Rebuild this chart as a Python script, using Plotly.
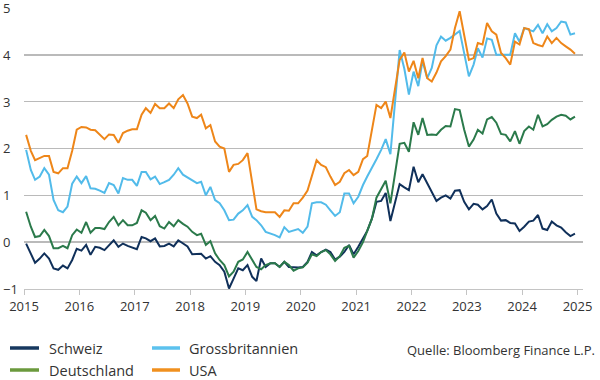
import plotly.graph_objects as go

# ---- data (monthly, Jan 2015 - Dec 2024) ----
years = list(range(2015, 2025))
months = [f"{y}-{m:02d}-15" for y in years for m in range(1, 13)]

schweiz = [
    -0.03, -0.24, -0.44, -0.35, -0.24, -0.35, -0.56, -0.59, -0.50, -0.56, -0.38, -0.14,
    -0.18, -0.06, -0.27, -0.10, -0.12, -0.17, -0.06, 0.04, -0.10, -0.03, -0.08, -0.11,
    -0.15, 0.11, 0.08, 0.02, 0.08, -0.09, -0.08, -0.03, -0.09, 0.04, -0.03, -0.09,
    -0.26, -0.26, -0.25, -0.35, -0.30, -0.42, -0.49, -0.63, -0.99, -0.78, -0.56, -0.60,
    -0.49, -0.74, -0.83, -0.35, -0.53, -0.45, -0.45, -0.53, -0.42, -0.53, -0.54, -0.54,
    -0.53, -0.42, -0.21, -0.28, -0.21, -0.16, -0.21, -0.37, -0.31, -0.21, -0.06, -0.26,
    -0.10, 0.09, 0.24, 0.50, 0.86, 0.88, 1.05, 0.45, 0.83, 1.24, 1.17, 1.11,
    1.61, 1.28, 1.45, 1.25, 1.05, 0.88, 0.95, 1.00, 0.93, 1.10, 1.11, 0.86,
    0.70, 0.82, 0.80, 0.70, 0.77, 0.91, 0.61, 0.46, 0.47, 0.41, 0.40, 0.24,
    0.33, 0.44, 0.46, 0.58, 0.29, 0.26, 0.44, 0.36, 0.31, 0.21, 0.13, 0.18,
]
deutschland = [
    0.65, 0.33, 0.11, 0.13, 0.26, 0.13, -0.13, -0.13, -0.08, -0.13, 0.15, 0.27,
    0.20, 0.43, 0.20, 0.30, 0.30, 0.28, 0.43, 0.54, 0.36, 0.47, 0.36, 0.36,
    0.41, 0.68, 0.63, 0.47, 0.56, 0.34, 0.29, 0.43, 0.34, 0.47, 0.39, 0.33,
    0.22, 0.15, 0.18, -0.06, 0.02, -0.24, -0.38, -0.49, -0.73, -0.63, -0.42, -0.37,
    -0.21, -0.38, -0.53, -0.58, -0.49, -0.45, -0.45, -0.53, -0.42, -0.49, -0.61, -0.56,
    -0.54, -0.44, -0.26, -0.30, -0.21, -0.17, -0.26, -0.40, -0.30, -0.12, -0.08, -0.33,
    -0.19, 0.00, 0.22, 0.50, 0.95, 1.12, 1.31, 0.83, 1.50, 2.10, 2.12, 1.93,
    2.56, 2.29, 2.65, 2.29, 2.30, 2.29, 2.40, 2.48, 2.47, 2.84, 2.82, 2.40,
    2.04, 2.19, 2.40, 2.32, 2.62, 2.67, 2.55, 2.31, 2.29, 2.15, 2.37, 2.10,
    2.37, 2.47, 2.40, 2.72, 2.47, 2.52, 2.61, 2.68, 2.72, 2.70, 2.62, 2.68,
]
grossbritannien = [
    1.97, 1.54, 1.33, 1.40, 1.58, 1.44, 0.90, 0.68, 0.64, 0.76, 1.25, 1.40,
    1.26, 1.41, 1.15, 1.14, 1.10, 1.05, 1.26, 1.22, 1.04, 1.37, 1.33, 1.33,
    1.20, 1.50, 1.50, 1.34, 1.40, 1.24, 1.28, 1.33, 1.44, 1.58, 1.44, 1.38,
    1.31, 1.26, 1.29, 1.00, 1.18, 0.90, 0.83, 0.68, 0.47, 0.48, 0.61, 0.68,
    0.79, 0.54, 0.47, 0.36, 0.22, 0.19, 0.15, 0.10, 0.32, 0.22, 0.25, 0.28,
    0.20, 0.33, 0.83, 0.85, 0.85, 0.80, 0.68, 0.56, 0.64, 1.04, 1.04, 0.83,
    0.97, 1.22, 1.40, 1.58, 1.77, 1.97, 2.20, 1.88, 3.00, 4.10, 3.70, 3.15,
    3.64, 3.33, 3.87, 3.50, 3.72, 4.20, 4.39, 4.30, 4.36, 4.43, 4.51, 4.03,
    3.54, 3.79, 4.14, 3.94, 4.35, 4.32, 4.00, 4.00, 4.00, 4.00, 4.46, 4.28,
    4.57, 4.54, 4.50, 4.64, 4.46, 4.65, 4.50, 4.57, 4.71, 4.69, 4.43, 4.46,
]
usa = [
    2.29, 1.95, 1.75, 1.80, 1.84, 1.84, 1.50, 1.47, 1.58, 1.58, 1.95, 2.40,
    2.46, 2.45, 2.40, 2.39, 2.29, 2.20, 2.30, 2.29, 2.12, 2.33, 2.38, 2.41,
    2.41, 2.72, 2.86, 2.76, 2.95, 2.86, 2.86, 2.96, 2.86, 3.05, 3.14, 2.96,
    2.68, 2.65, 2.72, 2.43, 2.50, 2.15, 2.04, 2.00, 1.50, 1.65, 1.67, 1.75,
    1.90, 1.25, 0.70, 0.66, 0.64, 0.64, 0.64, 0.54, 0.68, 0.67, 0.83, 0.83,
    0.95, 1.10, 1.40, 1.75, 1.65, 1.60, 1.40, 1.22, 1.29, 1.47, 1.54, 1.43,
    1.50, 1.77, 1.84, 2.40, 2.93, 2.86, 3.00, 2.65, 3.30, 3.89, 4.05, 3.64,
    3.87, 3.50, 3.93, 3.50, 3.43, 3.62, 3.86, 3.97, 4.11, 4.57, 4.93, 4.39,
    3.89, 3.93, 4.25, 4.22, 4.68, 4.50, 4.43, 4.04, 3.93, 3.79, 4.28, 4.22,
    4.57, 4.55, 4.25, 4.21, 4.18, 4.39, 4.25, 4.36, 4.25, 4.18, 4.11, 4.02,
]

x_tickvals = [f"{y}-01-01" for y in range(2015, 2026)]
x_ticktext = [str(y) for y in range(2015, 2026)]
y_tickvals = [-1, 0, 1, 2, 3, 4, 5]
y_ticktext = ["\u22121", "0", "1", "2", "3", "4", "5"]

series_names = ["Schweiz", "Deutschland", "Grossbritannien", "USA"]
series_values = [schweiz, deutschland, grossbritannien, usa]
line_colors = ["#10305a", "#2b7a4b", "#52bbea", "#ee8619"]
legend_colors = ["#17385f", "#6b9a3d", "#5cc2ee", "#f0901f"]
source_text = "Quelle: Bloomberg Finance L.P."

# ---- layout geometry ----
W, H = 600, 380
ML, MR, MT, MB = 24, 17, 7, 91
PW, PH = W - ML - MR, H - MT - MB
FONT = "Open Sans"
TXT = "#333333"


def px2x(px):
    return (px - ML) / PW


def py2y(py):
    return (H - MB - py) / PH


fig = go.Figure()
for name, vals, col in zip(series_names, series_values, line_colors):
    fig.add_trace(go.Scatter(x=months, y=vals, mode="lines", name=name,
                             line=dict(color=col, width=2), showlegend=False,
                             hoverinfo="skip"))

fig.update_layout(
    width=W, height=H,
    margin=dict(l=ML, r=MR, t=MT, b=MB, pad=0),
    paper_bgcolor="white", plot_bgcolor="white",
    font=dict(family=FONT, size=13, color=TXT),
    showlegend=False,
    xaxis=dict(
        type="date", range=["2015-01-01", "2025-02-06"],
        tickvals=x_tickvals, ticktext=x_ticktext,
        showgrid=False, zeroline=False,
        showline=True, linecolor="#c4c4c4", linewidth=1,
        ticks="outside", ticklen=5, tickwidth=1, tickcolor="#c4c4c4",
        tickfont=dict(family=FONT, size=13, color=TXT),
    ),
    yaxis=dict(
        range=[-1, 5.02], tickvals=y_tickvals[1:],
        showticklabels=False, showgrid=True, gridcolor="#bababa", gridwidth=1.6,
        zeroline=False, showline=False, ticks="",
    ),
)

# y tick labels (left aligned at the page edge)
for v, t in zip(y_tickvals, y_ticktext):
    fig.add_annotation(x=0, xref="paper", xshift=-ML + 1, xanchor="left",
                       y=v, yref="y", yanchor="middle", text=t, showarrow=False,
                       font=dict(family=FONT, size=13, color=TXT))

# manual legend: 2 columns x 2 rows
legend_order = [0, 2, 1, 3]  # Schweiz, Grossbritannien / Deutschland, USA
col_x = [(10, 39, 47), (152, 180, 187)]
row_y = [348, 370]
for pos, idx in enumerate(legend_order):
    r, c = divmod(pos, 2)
    x0, x1, xt = col_x[c]
    yy = row_y[r]
    fig.add_shape(type="line", xref="paper", yref="paper",
                  x0=px2x(x0), x1=px2x(x1), y0=py2y(yy), y1=py2y(yy),
                  line=dict(color=legend_colors[idx], width=3.5))
    fig.add_annotation(x=px2x(xt), xref="paper", xanchor="left",
                       y=py2y(yy), yref="paper", yanchor="middle",
                       text=series_names[idx], showarrow=False,
                       font=dict(family=FONT, size=14.5, color=TXT))

fig.add_annotation(x=px2x(597), xref="paper", xanchor="right",
                   y=py2y(350), yref="paper", yanchor="middle",
                   text=source_text, showarrow=False,
                   font=dict(family=FONT, size=13, color=TXT))

fig.write_html("out.html", config={"displayModeBar": False, "staticPlot": True},
               post_script="document.body.style.margin='0';document.body.style.overflow='hidden';")
